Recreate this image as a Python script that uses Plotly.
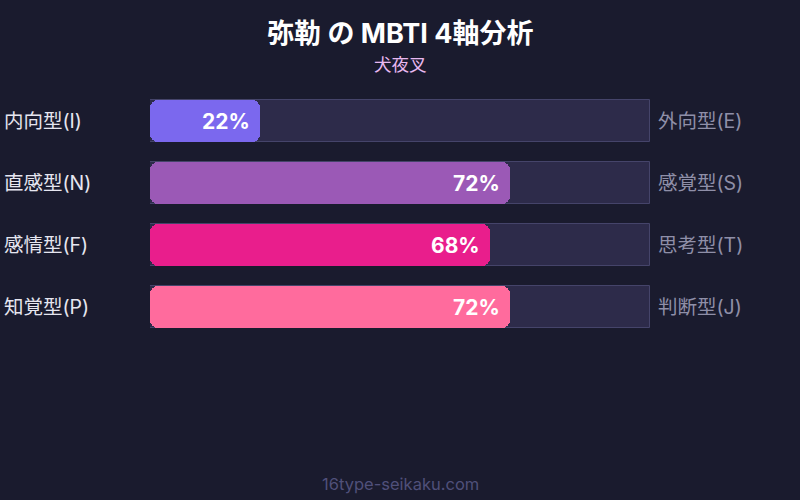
import plotly.graph_objects as go

left_labels = ["内向型(I)", "直感型(N)", "感情型(F)", "知覚型(P)"]
right_labels = ["外向型(E)", "感覚型(S)", "思考型(T)", "判断型(J)"]
values = [22, 72, 68, 72]
colors = ["#7b68ee", "#9b59b6", "#e91e8c", "#ff6b9d"]
title_text = "弥勒 の MBTI 4軸分析"
subtitle_text = "犬夜叉"
footer_text = "16type-seikaku.com"

FONT = "Inter, 'Noto Sans CJK JP', sans-serif"
ypos = list(range(len(values)))
BW = 0.677

fig = go.Figure()
# background track (100%)
fig.add_trace(go.Bar(
    x=[100] * len(values), y=ypos, orientation="h", width=BW,
    marker=dict(color="#2d2b4a", line=dict(color="#45446a", width=1)),
    hoverinfo="skip", showlegend=False,
))
# filled bar, explicit base so that all four corners get rounded
fig.add_trace(go.Bar(
    x=values, base=[0] * len(values), y=ypos, orientation="h", width=BW,
    marker=dict(color=colors, line=dict(width=0), cornerradius=8),
    hoverinfo="skip", showlegend=False,
))

ann = []
for i, (l, r, v) in enumerate(zip(left_labels, right_labels, values)):
    ann.append(dict(x=-0.296, xref="paper", y=i, yref="y", text=l, showarrow=False,
                    xanchor="left", yanchor="middle",
                    font=dict(family=FONT, size=19.5, color="#e6e6f0")))
    ann.append(dict(x=1.011, xref="paper", y=i, yref="y", text=r, showarrow=False,
                    xanchor="left", yanchor="middle",
                    font=dict(family=FONT, size=19.5, color="#8f8fa8")))
    ann.append(dict(x=v, xref="x", y=i, yref="y", text=f"<b>{v}%</b>", showarrow=False,
                    xanchor="right", yanchor="middle", xshift=-8,
                    font=dict(family=FONT, size=21, color="#ffffff")))

plot_top, plot_bottom = 90, 338
ph = plot_bottom - plot_top

def py(px):
    return (plot_bottom - px) / ph

ann.append(dict(x=0.5, xref="paper", y=py(33), yref="paper", text=f"<b>{title_text}</b>",
                showarrow=False, xanchor="center", yanchor="middle",
                font=dict(family=FONT, size=27, color="#ffffff")))
ann.append(dict(x=0.5, xref="paper", y=py(64), yref="paper", text=subtitle_text,
                showarrow=False, xanchor="center", yanchor="middle",
                font=dict(family=FONT, size=17.5, color="#e8b8f0")))
ann.append(dict(x=0.5, xref="paper", y=py(484), yref="paper", text=footer_text,
                showarrow=False, xanchor="center", yanchor="middle",
                font=dict(family=FONT, size=16.5, color="#50507a")))

fig.update_layout(
    width=800, height=500,
    margin=dict(l=150, r=150, t=plot_top, b=500 - plot_bottom, pad=0),
    paper_bgcolor="#1a1b2e", plot_bgcolor="#1a1b2e",
    barmode="overlay", bargap=0,
    xaxis=dict(range=[0, 100], visible=False, fixedrange=True),
    yaxis=dict(range=[3.5, -0.5], visible=False, fixedrange=True),
    annotations=ann,
    font=dict(family=FONT),
)

fig.write_html(
    "out.html",
    config={"displayModeBar": False},
    post_script="document.body.style.margin='0';document.body.style.background='#1a1b2e';",
)
